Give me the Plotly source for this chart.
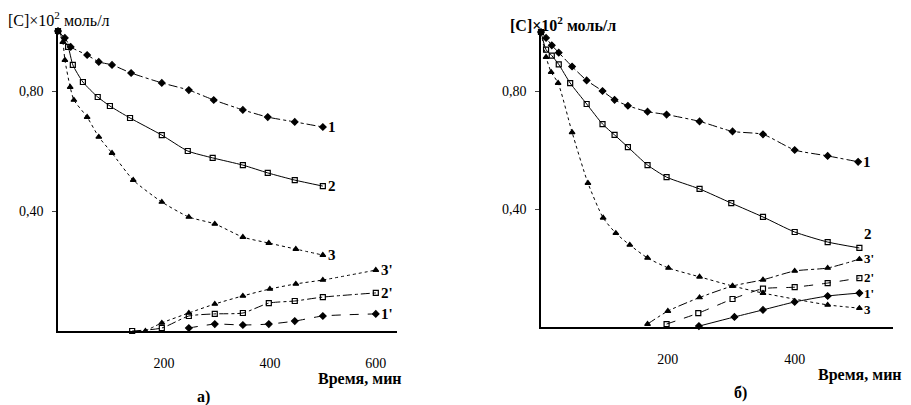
import plotly.graph_objects as go

# ---------- data: panel a) ----------
a1_x = [0, 13, 24, 55, 77, 102, 138, 196, 247, 294, 349, 396, 447, 500]
a1_y = [1.0, 0.977, 0.947, 0.92, 0.897, 0.887, 0.86, 0.827, 0.803, 0.77, 0.737, 0.713, 0.697, 0.68]
a2_x = [0, 19, 28, 47, 75, 98, 136, 196, 245, 292, 349, 396, 447, 500]
a2_y = [1.0, 0.947, 0.887, 0.83, 0.78, 0.75, 0.71, 0.653, 0.6, 0.577, 0.553, 0.527, 0.503, 0.483]
a3_x = [0, 9, 13, 23, 30, 55, 77, 102, 142, 196, 247, 296, 349, 398, 449, 500]
a3_y = [1.0, 0.963, 0.903, 0.813, 0.77, 0.713, 0.647, 0.593, 0.503, 0.43, 0.38, 0.357, 0.313, 0.293, 0.273, 0.253]
a3p_x = [165, 196, 247, 296, 349, 400, 449, 500, 600]
a3p_y = [0.0, 0.027, 0.06, 0.09, 0.117, 0.14, 0.157, 0.17, 0.203]
a2p_x = [140, 196, 247, 296, 349, 398, 447, 500, 600]
a2p_y = [0.0, 0.01, 0.05, 0.057, 0.06, 0.093, 0.1, 0.113, 0.127]
a1p_x = [247, 296, 349, 398, 447, 500, 600]
a1p_y = [0.01, 0.023, 0.02, 0.023, 0.033, 0.05, 0.057]

# ---------- data: panel б) ----------
b1_x = [0, 8, 17, 28, 49, 72, 97, 116, 137, 168, 198, 250, 302, 350, 400, 452, 500]
b1_y = [1.0, 0.98, 0.955, 0.93, 0.883, 0.836, 0.8, 0.77, 0.75, 0.73, 0.72, 0.697, 0.663, 0.653, 0.6, 0.58, 0.56]
b2_x = [0, 8, 17, 28, 46, 72, 97, 116, 137, 168, 198, 250, 300, 350, 400, 452, 502]
b2_y = [1.0, 0.94, 0.92, 0.89, 0.827, 0.756, 0.688, 0.651, 0.61, 0.549, 0.508, 0.468, 0.42, 0.373, 0.322, 0.288, 0.268]
b3_x = [0, 8, 16, 27, 49, 74, 98, 118, 140, 168, 201, 250, 302, 350, 452, 502]
b3_y = [1.0, 0.915, 0.864, 0.827, 0.66, 0.488, 0.37, 0.318, 0.278, 0.234, 0.2, 0.17, 0.139, 0.115, 0.075, 0.064]
b3p_x = [168, 200, 250, 302, 350, 400, 452, 502]
b3p_y = [0.01, 0.054, 0.1, 0.139, 0.16, 0.19, 0.2, 0.23]
b2p_x = [198, 248, 302, 350, 400, 452, 502]
b2p_y = [0.01, 0.047, 0.095, 0.13, 0.135, 0.149, 0.166]
b1p_x = [249, 305, 350, 400, 452, 502]
b1p_y = [0.003, 0.034, 0.058, 0.085, 0.105, 0.115]

x_ticks_a = [200, 400, 600]
x_ticks_b = [200, 400]
y_ticks = [0.40, 0.80]
y_ticktext = ["0,40", "0,80"]

FONT = "Times New Roman, Liberation Serif, DejaVu Serif, serif"
fig = go.Figure()

def add(x, y, sym, dash, axis, label, yshift=0, xshift=3, size=15):
    xa, ya = axis
    fig.add_trace(go.Scatter(
        x=x, y=y, mode="lines+markers", xaxis=xa, yaxis=ya,
        line=dict(color="black", width=1, dash=dash, shape="spline", smoothing=0.6),
        marker=dict(symbol=sym, size=5, color="black",
                    line=dict(color="black", width=1.2)),
        cliponaxis=False, showlegend=False, hoverinfo="skip"))
    fig.add_annotation(x=x[-1], y=y[-1], xref=xa, yref=ya.replace("axis", ""),
                       text="<b>" + label + "</b>", showarrow=False,
                       xanchor="left", yanchor="middle", xshift=xshift, yshift=yshift,
                       font=dict(family=FONT, size=size, color="black"))

A = ("x", "y")
B = ("x2", "y2")
add(a1_x, a1_y, "diamond", "dashdot", A, "1")
add(a2_x, a2_y, "square-open", "solid", A, "2")
add(a3_x, a3_y, "triangle-up", "dot", A, "3")
add(a3p_x, a3p_y, "triangle-up", "dot", A, "3'")
add(a2p_x, a2p_y, "square-open", "dashdot", A, "2'")
add(a1p_x, a1p_y, "diamond", "dash", A, "1'")

add(b1_x, b1_y, "diamond", "dashdot", B, "1", size=15)
add(b2_x, b2_y, "square-open", "solid", B, "2", yshift=14, size=15)
add(b3_x, b3_y, "triangle-up", "dot", B, "3", yshift=-1, size=13)
add(b3p_x, b3p_y, "triangle-up", "dashdot", B, "3'", yshift=1, size=13)
add(b2p_x, b2p_y, "square-open", "dash", B, "2'", yshift=1, size=13)
add(b1p_x, b1p_y, "diamond", "solid", B, "1'", yshift=0, size=13)

W, H = 911, 405
axis_common = dict(showgrid=False, zeroline=False, showline=True, linecolor="black",
                   linewidth=1.5, tickfont=dict(family=FONT, size=14, color="black"))

fig.update_layout(
    width=W, height=H, margin=dict(l=0, r=0, t=0, b=0),
    paper_bgcolor="white", plot_bgcolor="white",
    font=dict(family=FONT),
    xaxis=dict(domain=[58 / W, 397 / W], range=[0, 640], tickvals=x_ticks_a,
               ticks="", ticklabelstandoff=18, anchor="y", **axis_common),
    yaxis=dict(domain=[1 - 331 / H, 1 - 31 / H], range=[0, 1.0], tickvals=y_ticks,
               ticktext=y_ticktext, ticks="outside", ticklen=4, anchor="x",
               ticklabelstandoff=6, **axis_common),
    xaxis2=dict(domain=[541 / W, 893 / W], range=[0, 555], tickvals=x_ticks_b,
                ticks="", ticklabelstandoff=18, anchor="y2", **axis_common),
    yaxis2=dict(domain=[1 - 327 / H, 1 - 32 / H], range=[0, 1.0], tickvals=y_ticks,
                ticktext=y_ticktext, ticks="outside", ticklen=4, anchor="x2",
                ticklabelstandoff=6, **axis_common),
)

def paper_text(px, py, text, size=14, bold=False, anchor="center"):
    t = "<b>" + text + "</b>" if bold else text
    fig.add_annotation(x=px / W, y=1 - py / H, xref="paper", yref="paper", text=t,
                       showarrow=False, xanchor=anchor, yanchor="middle",
                       font=dict(family=FONT, size=size, color="black"))

paper_text(6, 19, "[C]×10<sup>2</sup> моль/л", size=16, anchor="left")
paper_text(508, 24, "[C]×10<sup>2</sup> моль/л", size=16, bold=True, anchor="left")
paper_text(360, 379, "Время, мин", size=16, bold=True)
paper_text(860, 375, "Время, мин", size=16, bold=True)
paper_text(203, 397, "а)", size=16, bold=True)
paper_text(740, 393, "б)", size=16, bold=True)

fig.write_html("out.html")
